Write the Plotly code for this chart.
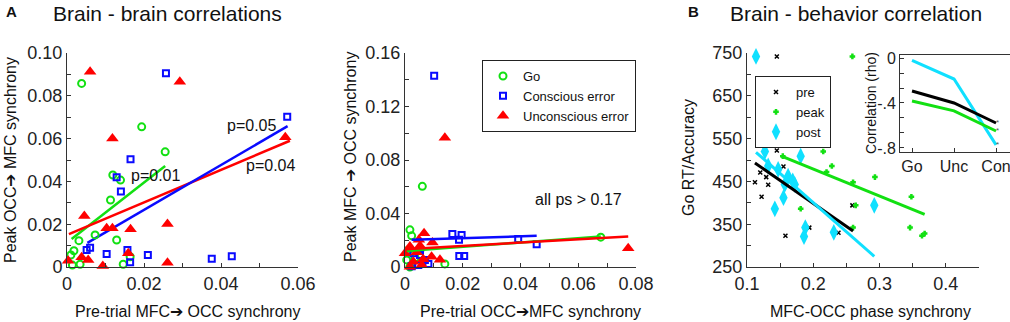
import plotly.graph_objects as go

FONT = "Liberation Sans, Arial, sans-serif"
GREEN = "#12e012"
BLUE = "#0a0aff"
RED = "#ff0000"
CYAN = "#10e0ff"
AX = "#333333"

# ---------------- Panel A (left): pre-trial MFC->OCC vs peak OCC->MFC ----------------
go1_x = [0.0038, 0.0194, 0.0255, 0.0119, 0.0139, 0.0113, 0.0073, 0.0129, 0.0031, 0.0018, 0.0010, 0.0014, 0.0034, 0.0146, 0.0164]
go1_y = [0.0858, 0.0655, 0.0538, 0.0430, 0.0406, 0.0313, 0.0150, 0.0126, 0.0123, 0.0076, 0.0056, 0.0009, 0.0013, 0.0013, 0.0048]
con1_x = [0.0519, 0.0257, 0.0572, 0.0165, 0.0129, 0.0140, 0.0051, 0.0060, 0.0103, 0.0157, 0.0164, 0.0210, 0.0376, 0.0428]
con1_y = [0.1003, 0.0905, 0.0702, 0.0503, 0.0419, 0.0353, 0.0079, 0.0090, 0.0061, 0.0079, 0.0022, 0.0056, 0.0039, 0.0050]
unc1_x = [0.0060, 0.0293, 0.0118, 0.0567, 0.0045, 0.0261, 0.0103, 0.0118, 0.0165, 0.0159, 0.0003, 0.0038, 0.0055, 0.0093, 0.0261]
unc1_y = [0.0912, 0.0866, 0.0601, 0.0606, 0.0238, 0.0201, 0.0181, 0.0181, 0.0176, 0.0064, 0.0029, 0.0045, 0.0033, 0.0005, 0.0020]
go1_fit_x = [0.0012, 0.0255]
go1_fit_y = [0.0131, 0.0472]
con1_fit_x = [0.0053, 0.0573]
con1_fit_y = [0.0113, 0.0658]
unc1_fit_x = [0.0005, 0.0579]
unc1_fit_y = [0.0154, 0.0590]

# ---------------- Panel A (right): pre-trial OCC->MFC vs peak MFC->OCC ----------------
go2_x = [0.0060, 0.0017, 0.0023, 0.0678, 0.0138, 0.0012, 0.0006, 0.0017, 0.0052, 0.0035]
go2_y = [0.0603, 0.0278, 0.0233, 0.0223, 0.0023, 0.0128, 0.0053, 0.0000, 0.0128, 0.0070]
con2_x = [0.0101, 0.0164, 0.0196, 0.0187, 0.0392, 0.0456, 0.0188, 0.0205, 0.0029, 0.0052, 0.0069, 0.0081, 0.0046, 0.0023]
con2_y = [0.1429, 0.0246, 0.0240, 0.0203, 0.0210, 0.0170, 0.0083, 0.0083, 0.0103, 0.0090, 0.0053, 0.0023, 0.0015, 0.0005]
unc2_x = [0.0138, 0.0773, 0.0066, 0.0095, 0.0048, 0.0052, 0.0000, 0.0017, 0.0040, 0.0121, 0.0092, 0.0063, 0.0029, 0.0058, 0.0017]
unc2_y = [0.0967, 0.0140, 0.0253, 0.0183, 0.0203, 0.0158, 0.0103, 0.0153, 0.0110, 0.0055, 0.0077, 0.0058, 0.0040, 0.0015, 0.0002]
go2_fit_x = [0.0006, 0.0678]
go2_fit_y = [0.0120, 0.0228]
con2_fit_x = [0.0023, 0.0456]
con2_fit_y = [0.0203, 0.0233]
unc2_fit_x = [0.0000, 0.0773]
unc2_fit_y = [0.0133, 0.0228]

# ---------------- Panel B: MFC-OCC phase synchrony vs Go RT/Accuracy ----------------
pre_x = [0.145, 0.145, 0.155, 0.120, 0.129, 0.112, 0.132, 0.122, 0.158, 0.194, 0.259, 0.238]
pre_y = [742, 522, 485, 471, 460, 448, 442, 414, 323, 342, 394, 330]
peak_x = [0.259, 0.154, 0.215, 0.228, 0.220, 0.260, 0.293, 0.181, 0.264, 0.260, 0.346, 0.348, 0.364, 0.368]
peak_y = [742, 509, 520, 486, 472, 448, 460, 386, 394, 342, 342, 414, 323, 328]
post_x = [0.1136, 0.127, 0.132, 0.147, 0.162, 0.169, 0.172, 0.157, 0.181, 0.155, 0.142, 0.188, 0.186, 0.231, 0.292]
post_y = [742, 520, 486, 478, 462, 451, 443, 443, 509, 412, 386, 342, 321, 331, 394]
pre_fit_x = [0.112, 0.260]
pre_fit_y = [493, 334]
peak_fit_x = [0.152, 0.368]
peak_fit_y = [509, 373]
post_fit_x = [0.1136, 0.292]
post_fit_y = [518, 275]

# ---------------- Inset: correlation (rho) per condition ----------------
inset_cats = ["Go", "Unc", "Con"]
rho_pre = [-0.293, -0.400, -0.578]
rho_peak = [-0.382, -0.470, -0.649]
rho_post = [-0.020, -0.187, -0.773]
sig_marks = ["*", "*", "*"]

# tick labels
a1_xticks = [0, 0.02, 0.04, 0.06]
a1_xlabels = ["0", "0.02", "0.04", "0.06"]
a1_yticks = [0, 0.02, 0.04, 0.06, 0.08, 0.10]
a1_ylabels = ["0", "0.02", "0.04", "0.06", "0.08", "0.10"]
a2_xticks = [0, 0.02, 0.04, 0.06, 0.08]
a2_xlabels = ["0", "0.02", "0.04", "0.06", "0.08"]
a2_yticks = [0, 0.04, 0.08, 0.12, 0.16]
a2_ylabels = ["0", "0.04", "0.08", "0.12", "0.16"]
b_xticks = [0.1, 0.2, 0.3, 0.4]
b_xlabels = ["0.1", "0.2", "0.3", "0.4"]
b_yticks = [250, 350, 450, 550, 650, 750]
b_ylabels = ["250", "350", "450", "550", "650", "750"]
in_yticks = [0, -0.4, -0.8]
in_ylabels = ["0", "-.4", "-.8"]

fig = go.Figure()

go_m = dict(symbol="circle-open", size=7, color=GREEN, line=dict(width=2, color=GREEN))
con_m = dict(symbol="square-open", size=6, color=BLUE, line=dict(width=2, color=BLUE))
unc_m = dict(symbol="triangle-up", size=11, color=RED, line=dict(width=0))

# panel A left
fig.add_trace(go.Scatter(x=go1_fit_x, y=go1_fit_y, mode="lines", line=dict(color=GREEN, width=2.5), xaxis="x", yaxis="y", showlegend=False))
fig.add_trace(go.Scatter(x=unc1_fit_x, y=unc1_fit_y, mode="lines", line=dict(color=RED, width=2.5), xaxis="x", yaxis="y", showlegend=False))
fig.add_trace(go.Scatter(x=con1_fit_x, y=con1_fit_y, mode="lines", line=dict(color=BLUE, width=2.5), xaxis="x", yaxis="y", showlegend=False))
fig.add_trace(go.Scatter(x=go1_x, y=go1_y, mode="markers", marker=go_m, xaxis="x", yaxis="y", showlegend=False, cliponaxis=False))
fig.add_trace(go.Scatter(x=con1_x, y=con1_y, mode="markers", marker=con_m, xaxis="x", yaxis="y", showlegend=False, cliponaxis=False))
fig.add_trace(go.Scatter(x=unc1_x, y=unc1_y, mode="markers", marker=unc_m, xaxis="x", yaxis="y", showlegend=False, cliponaxis=False))

# panel A right
fig.add_trace(go.Scatter(x=go2_x, y=go2_y, mode="markers", marker=go_m, name="Go", xaxis="x2", yaxis="y2", legend="legend", cliponaxis=False))
fig.add_trace(go.Scatter(x=con2_x, y=con2_y, mode="markers", marker=con_m, name="Conscious error", xaxis="x2", yaxis="y2", legend="legend", cliponaxis=False))
fig.add_trace(go.Scatter(x=unc2_x, y=unc2_y, mode="markers", marker=unc_m, name="Unconscious error", xaxis="x2", yaxis="y2", legend="legend", cliponaxis=False))
fig.add_trace(go.Scatter(x=go2_fit_x, y=go2_fit_y, mode="lines", line=dict(color=GREEN, width=2.5), xaxis="x2", yaxis="y2", showlegend=False))
fig.add_trace(go.Scatter(x=unc2_fit_x, y=unc2_fit_y, mode="lines", line=dict(color=RED, width=2.5), xaxis="x2", yaxis="y2", showlegend=False))
fig.add_trace(go.Scatter(x=con2_fit_x, y=con2_fit_y, mode="lines", line=dict(color=BLUE, width=2.5), xaxis="x2", yaxis="y2", showlegend=False))

# panel B
fig.add_trace(go.Scatter(x=pre_x, y=pre_y, mode="markers", name="pre",
                         marker=dict(symbol="x-thin", size=4, color="black", line=dict(width=1.5, color="black")),
                         xaxis="x3", yaxis="y3", legend="legend2", cliponaxis=False))
fig.add_trace(go.Scatter(x=peak_x, y=peak_y, mode="markers", name="peak",
                         marker=dict(symbol="cross-thin", size=4, color=GREEN, line=dict(width=2.5, color=GREEN)),
                         xaxis="x3", yaxis="y3", legend="legend2", cliponaxis=False))
fig.add_trace(go.Scatter(x=post_x, y=post_y, mode="markers", name="post",
                         marker=dict(symbol="diamond-tall", size=12, color=CYAN, line=dict(width=0)),
                         xaxis="x3", yaxis="y3", legend="legend2", cliponaxis=False))
fig.add_trace(go.Scatter(x=peak_fit_x, y=peak_fit_y, mode="lines", line=dict(color=GREEN, width=3), xaxis="x3", yaxis="y3", showlegend=False))
fig.add_trace(go.Scatter(x=pre_fit_x, y=pre_fit_y, mode="lines", line=dict(color="black", width=3), xaxis="x3", yaxis="y3", showlegend=False))
fig.add_trace(go.Scatter(x=post_fit_x, y=post_fit_y, mode="lines", line=dict(color=CYAN, width=3), xaxis="x3", yaxis="y3", showlegend=False))

# inset
fig.add_trace(go.Scatter(x=inset_cats, y=rho_post, mode="lines", line=dict(color=CYAN, width=3), xaxis="x4", yaxis="y4", showlegend=False))
fig.add_trace(go.Scatter(x=inset_cats, y=rho_pre, mode="lines", line=dict(color="black", width=3), xaxis="x4", yaxis="y4", showlegend=False))
fig.add_trace(go.Scatter(x=inset_cats, y=rho_peak, mode="lines", line=dict(color=GREEN, width=3), xaxis="x4", yaxis="y4", showlegend=False))
fig.add_trace(go.Scatter(x=[inset_cats[-1]] * 3, y=[rho_pre[-1], rho_peak[-1], rho_post[-1]], mode="text",
                         text=sig_marks, textposition="middle right", textfont=dict(size=8, color="#555555", family=FONT),
                         xaxis="x4", yaxis="y4", showlegend=False, cliponaxis=False))

TICKF = dict(family=FONT, size=18, color="#222222")


def ax(domain, rng, tv, tt, minor_dtick, tick0, anchor, **kw):
    d = dict(domain=domain, range=rng, tickmode="array", tickvals=tv, ticktext=tt, automargin=False,
             showline=True, linecolor=AX, linewidth=1, ticks="inside", ticklen=4, tickcolor=AX,
             showgrid=False, zeroline=False, tickfont=TICKF, anchor=anchor,
             minor=dict(tickmode="linear", tick0=tick0, dtick=minor_dtick, ticks="inside", ticklen=4, tickcolor=AX, showgrid=False))
    d.update(kw)
    return d


W, H = 1010, 322
def px(x):
    return x / W
def py(y):
    return 1 - y / H

fig.update_layout(
    template="none",
    width=W, height=H, margin=dict(l=0, r=0, t=0, b=0, pad=0),
    paper_bgcolor="white", plot_bgcolor="white", hovermode=False,
    font=dict(family=FONT, color="#222222"),
    xaxis=ax([px(67), px(298)], [0, 0.06], a1_xticks, a1_xlabels, 0.01, 0, "y"),
    yaxis=ax([py(267), py(53)], [0, 0.1], a1_yticks, a1_ylabels, 0.01, 0, "x"),
    xaxis2=ax([px(405), px(636)], [0, 0.08], a2_xticks, a2_xlabels, 0.01, 0, "y2"),
    yaxis2=ax([py(267), py(53)], [0, 0.16], a2_yticks, a2_ylabels, 0.02, 0, "x2"),
    xaxis3=ax([px(747), px(979)], [0.1, 0.45], b_xticks, b_xlabels, 0.05, 0.1, "y3"),
    yaxis3=ax([py(267), py(53)], [250, 750], b_yticks, b_ylabels, 50, 250, "x3"),
    xaxis4=dict(domain=[px(900), 1.0], range=[-0.286, 2.333], type="category", anchor="y4", automargin=False,
                showline=True, linecolor=AX, linewidth=1, mirror=True, ticks="inside", ticklen=4, tickcolor=AX,
                showgrid=False, zeroline=False, tickfont=dict(family=FONT, size=16, color="#222222")),
    yaxis4=dict(domain=[py(152), py(55)], range=[-0.836, 0.027], anchor="x4", tickmode="array", automargin=False,
                tickvals=in_yticks, ticktext=in_ylabels,
                showline=True, linecolor=AX, linewidth=1, mirror=True, ticks="inside", ticklen=4, tickcolor=AX,
                showgrid=False, zeroline=False, tickfont=dict(family=FONT, size=16, color="#222222"),
                minor=dict(tickmode="linear", tick0=0, dtick=0.4 / 3, ticks="inside", ticklen=4, tickcolor=AX, showgrid=False)),
    legend=dict(x=px(482), y=py(60), xanchor="left", yanchor="top", bgcolor="white",
                bordercolor="#222222", borderwidth=1, font=dict(family=FONT, size=13, color="#111111"),
                itemwidth=30, tracegroupgap=0),
    legend2=dict(x=px(755), y=py(76), xanchor="left", yanchor="top", bgcolor="white",
                 bordercolor="#222222", borderwidth=1, font=dict(family=FONT, size=13, color="#111111"),
                 itemwidth=30, tracegroupgap=0),
)

ann = []
def txt(x, y, s, size, xanchor="left", angle=0, bold=False):
    ann.append(dict(x=x, y=y, xref="paper", yref="paper", text=("<b>%s</b>" % s) if bold else s,
                    showarrow=False, xanchor=xanchor, yanchor="middle", textangle=angle,
                    font=dict(family=FONT, size=size, color="#111111")))

txt(px(4), py(12), "A", 15, bold=True)
txt(px(51), py(13), "Brain - brain correlations", 21)
txt(px(686), py(12), "B", 15, bold=True)
txt(px(728), py(13), "Brain - behavior correlation", 21)

txt(px(10), py(160), "Peak OCC\u2794 MFC synchrony", 16, xanchor="center", angle=-90)
txt(px(187), py(311), "Pre-trial MFC\u2794 OCC synchrony", 16, xanchor="center")
txt(px(350), py(157), "Peak MFC \u2794 OCC synchrony", 16, xanchor="center", angle=-90)
txt(px(530), py(311), "Pre-trial OCC\u2794MFC synchrony", 16, xanchor="center")
txt(px(689), py(158), "Go RT/Accuracy", 16, xanchor="center", angle=-90)
txt(px(870), py(311), "MFC-OCC phase synchrony", 16, xanchor="center")
txt(px(871), py(103), "Correlation (rho)", 14, xanchor="center", angle=-90)

txt(px(129), py(175), "p=0.01", 16)
txt(px(225), py(125), "p=0.05", 16)
txt(px(244), py(165), "p=0.04", 16)
txt(px(533), py(200), "all ps > 0.17", 16)

fig.update_layout(annotations=ann)
fig.write_html("out.html", config={"displayModeBar": False, "staticPlot": True},
               post_script="document.body.style.margin='0';document.body.style.overflow='hidden';")
